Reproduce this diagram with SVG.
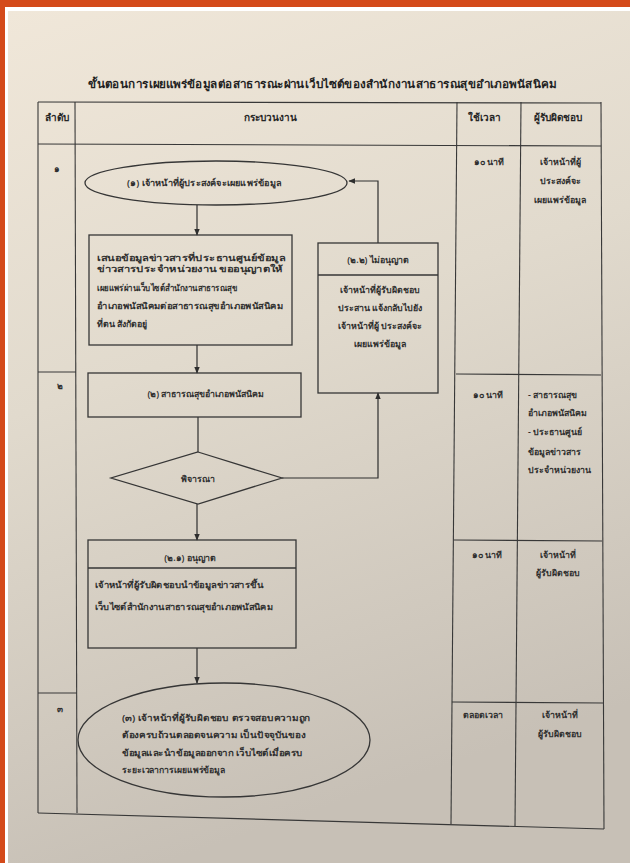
<svg xmlns="http://www.w3.org/2000/svg" width="630" height="863" viewBox="0 0 630 863">
<defs>
<linearGradient id="paper" x1="0" y1="0" x2="0.25" y2="1">
<stop offset="0" stop-color="#f0e7d9"/>
<stop offset="0.45" stop-color="#e1dacd"/>
<stop offset="1" stop-color="#c7c0b6"/>
</linearGradient>
<marker id="ah" viewBox="0 0 10 10" refX="9" refY="5" markerWidth="7" markerHeight="7" orient="auto" markerUnits="userSpaceOnUse">
<path d="M0,1 L10,5 L0,9 z" fill="#2e2e2e"/>
</marker>
<style>
.t{font-family:"Noto Sans","DejaVu Sans",sans-serif;fill:#2f2f2f;font-size:8.8px;font-weight:600}
.h{font-size:10px;font-weight:bold;fill:#262626}
.ttl{font-size:11px;font-weight:bold;fill:#1f1f1f}
.mid{text-anchor:middle}
.grid{stroke:#383838;stroke-width:1.1;fill:none}
.shape{stroke:#363636;stroke-width:1.3;fill:none}
.con{stroke:#2e2e2e;stroke-width:1.2;fill:none}
</style>
</defs>
<rect x="0" y="0" width="630" height="863" fill="#ffffff"/>
<rect x="8" y="11" width="622" height="852" fill="url(#paper)"/>
<rect x="0" y="0" width="630" height="7" fill="#d44a1a"/>
<rect x="0" y="0" width="5" height="863" fill="#d44a1a"/>

<g id="title">
<text class="t ttl" x="88" y="88" textLength="468" lengthAdjust="spacingAndGlyphs">ขั้นตอนการเผยแพร่ข้อมูลต่อสาธารณะผ่านเว็บไซต์ของสำนักงานสาธารณสุขอำเภอพนัสนิคม</text>
</g>

<g id="table">
<line class="grid" x1="38" y1="102" x2="38" y2="813"/>
<line class="grid" x1="75" y1="102" x2="77" y2="813"/>
<line class="grid" x1="457" y1="102" x2="451" y2="824"/>
<line class="grid" x1="521" y1="102" x2="515" y2="826"/>
<line class="grid" x1="601" y1="102" x2="604" y2="829"/>
<line class="grid" x1="38" y1="102" x2="601" y2="103"/>
<line class="grid" x1="38" y1="144" x2="601" y2="146"/>
<line class="grid" x1="38" y1="372" x2="76" y2="372"/>
<line class="grid" x1="456" y1="374" x2="601" y2="375"/>
<line class="grid" x1="454" y1="540" x2="602" y2="541"/>
<line class="grid" x1="38" y1="693" x2="77" y2="693"/>
<line class="grid" x1="452" y1="702" x2="603" y2="703"/>
<line class="grid" x1="38" y1="813" x2="604" y2="829"/>
<text class="t h mid" x="57" y="121">ลำดับ</text>
<text class="t h mid" x="270" y="121">กระบวนงาน</text>
<text class="t h mid" x="484" y="121">ใช้เวลา</text>
<text class="t h mid" x="558" y="121">ผู้รับผิดชอบ</text>
<text class="t mid" x="57" y="172" font-size="10">๑</text>
<text class="t mid" x="60" y="389" font-size="10">๒</text>
<text class="t mid" x="60" y="712" font-size="10">๓</text>
<text class="t mid" x="489" y="165">๑๐ นาที</text>
<text class="t mid" x="560" y="165">เจ้าหน้าที่ผู้</text>
<text class="t mid" x="560" y="184">ประสงค์จะ</text>
<text class="t mid" x="560" y="203">เผยแพร่ข้อมูล</text>
<text class="t mid" x="488" y="398">๑๐ นาที</text>
<text class="t" x="528" y="398">- สาธารณสุข</text>
<text class="t" x="528" y="416">อำเภอพนัสนิคม</text>
<text class="t" x="528" y="435">- ประธานศูนย์</text>
<text class="t" x="528" y="455">ข้อมูลข่าวสาร</text>
<text class="t" x="528" y="473">ประจำหน่วยงาน</text>
<text class="t mid" x="487" y="558">๑๐ นาที</text>
<text class="t mid" x="558" y="558">เจ้าหน้าที่</text>
<text class="t mid" x="558" y="576">ผู้รับผิดชอบ</text>
<text class="t mid" x="483" y="718">ตลอดเวลา</text>
<text class="t mid" x="560" y="718">เจ้าหน้าที่</text>
<text class="t mid" x="560" y="737">ผู้รับผิดชอบ</text>
</g>

<g id="connectors">
<line class="con" x1="197" y1="205" x2="197" y2="235" marker-end="url(#ah)"/>
<polyline class="con" points="378,243 378,181 349,181" marker-end="url(#ah)"/>
<line class="con" x1="197" y1="345" x2="197" y2="373" marker-end="url(#ah)"/>
<line class="con" x1="198" y1="417" x2="198" y2="452"/>
<polyline class="con" points="282,478 378,478 378,393" marker-end="url(#ah)"/>
<line class="con" x1="197" y1="504" x2="197" y2="540" marker-end="url(#ah)"/>
<line class="con" x1="197" y1="648" x2="197" y2="683" marker-end="url(#ah)"/>
</g>

<g id="n1">
<ellipse class="shape" cx="216" cy="183" rx="131" ry="22"/>
<text class="t mid" x="204" y="186" textLength="154" lengthAdjust="spacingAndGlyphs">(๑) เจ้าหน้าที่ผู้ประสงค์จะเผยแพร่ข้อมูล</text>
</g>

<g id="n1b">
<rect class="shape" x="89" y="235" width="203" height="110"/>
<text class="t" x="97" y="261" textLength="188" lengthAdjust="spacingAndGlyphs">เสนอข้อมูลข่าวสารที่ประธานศูนย์ข้อมูล</text>
<text class="t" x="97" y="272" textLength="186" lengthAdjust="spacingAndGlyphs">ข่าวสารประจำหน่วยงาน ขออนุญาตให้</text>
<text class="t" x="97" y="291" textLength="140" lengthAdjust="spacingAndGlyphs">เผยแพร่ผ่านเว็บไซต์สำนักงานสาธารณสุข</text>
<text class="t" x="97" y="309" textLength="186" lengthAdjust="spacingAndGlyphs">อำเภอพนัสนิคมต่อสาธารณสุขอำเภอพนัสนิคม</text>
<text class="t" x="97" y="327">ที่ตน สังกัดอยู่</text>
</g>

<g id="n22">
<rect class="shape" x="318" y="243" width="120" height="150"/>
<line class="shape" x1="318" y1="275" x2="438" y2="275"/>
<text class="t mid" x="378" y="263">(๒.๒) ไม่อนุญาต</text>
<text class="t mid" x="380" y="293">เจ้าหน้าที่ผู้รับผิดชอบ</text>
<text class="t mid" x="380" y="311">ประสาน แจ้งกลับไปยัง</text>
<text class="t mid" x="380" y="329">เจ้าหน้าที่ผู้ ประสงค์จะ</text>
<text class="t mid" x="380" y="347">เผยแพร่ข้อมูล</text>
</g>

<g id="n2">
<rect class="shape" x="88" y="373" width="213" height="44"/>
<text class="t mid" x="206" y="397">(๒) สาธารณสุขอำเภอพนัสนิคม</text>
</g>

<g id="d1">
<polygon class="shape" points="198,452 282,478 198,504 111,478"/>
<text class="t mid" x="198" y="482">พิจารณา</text>
</g>

<g id="n21">
<rect class="shape" x="88" y="540" width="208" height="108"/>
<line class="shape" x1="88" y1="568" x2="296" y2="568"/>
<text class="t mid" x="190" y="561">(๒.๑) อนุญาต</text>
<text class="t" x="95" y="588" textLength="168" lengthAdjust="spacingAndGlyphs">เจ้าหน้าที่ผู้รับผิดชอบนำข้อมูลข่าวสารขึ้น</text>
<text class="t" x="95" y="610" textLength="178" lengthAdjust="spacingAndGlyphs">เว็บไซต์สำนักงานสาธารณสุขอำเภอพนัสนิคม</text>
</g>

<g id="n3">
<ellipse class="shape" cx="224" cy="740" rx="146" ry="57"/>
<text class="t" x="122" y="721" textLength="188" lengthAdjust="spacingAndGlyphs">(๓) เจ้าหน้าที่ผู้รับผิดชอบ ตรวจสอบความถูก</text>
<text class="t" x="122" y="738" textLength="183" lengthAdjust="spacingAndGlyphs">ต้องครบถ้วนตลอดจนความ เป็นปัจจุบันของ</text>
<text class="t" x="122" y="756" textLength="181" lengthAdjust="spacingAndGlyphs">ข้อมูลและนำข้อมูลออกจาก เว็บไซต์เมื่อครบ</text>
<text class="t" x="122" y="773" textLength="103" lengthAdjust="spacingAndGlyphs">ระยะเวลาการเผยแพร่ข้อมูล</text>
</g>
</svg>
